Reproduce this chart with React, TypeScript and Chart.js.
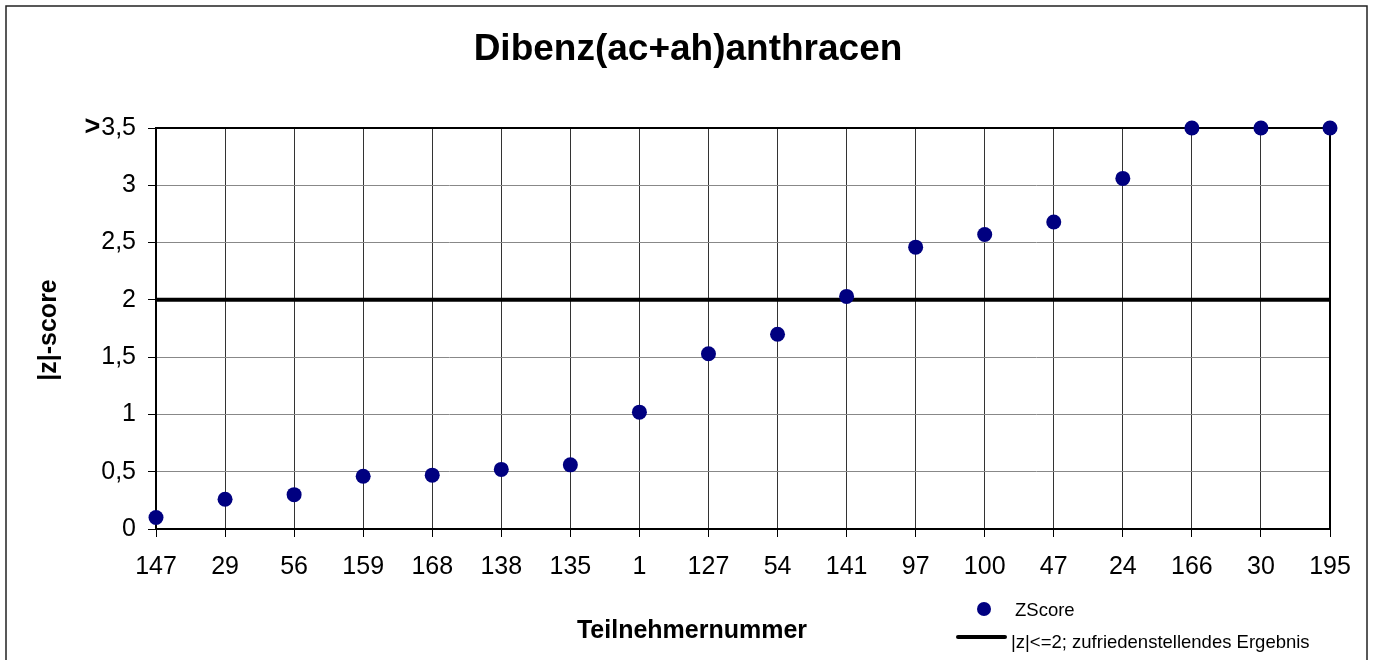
import React, { useEffect, useRef } from "react";
import { Chart, registerables } from "chart.js";

Chart.register(...registerables);

const chartTitle = "Dibenz(ac+ah)anthracen";
const xTitle = "Teilnehmernummer";
const yTitle = "|z|-score";
const categories = ["147", "29", "56", "159", "168", "138", "135", "1", "127", "54", "141", "97", "100", "47", "24", "166", "30", "195"];
const zScores = [0.1, 0.26, 0.3, 0.46, 0.47, 0.52, 0.56, 1.02, 1.53, 1.7, 2.03, 2.46, 2.57, 2.68, 3.06, 3.5, 3.5, 3.5];
const limitLine = [2, 2, 2, 2, 2, 2, 2, 2, 2, 2, 2, 2, 2, 2, 2, 2, 2, 2];
const yTickLabels = ["0", "0,5", "1", "1,5", "2", "2,5", "3", "3,5"];
const seriesNames = ["ZScore", "|z|<=2; zufriedenstellendes Ergebnis"];

const FONT = "Arial, 'Liberation Sans', sans-serif";

export default function App() {
  const ref = useRef<HTMLCanvasElement>(null);

  useEffect(() => {
    const canvas = ref.current!;
    const decor = {
      id: "decor",
      beforeDatasetsDraw(chart: any) {
        const { ctx, chartArea: a } = chart;
        ctx.save();
        ctx.strokeStyle = "#000";
        ctx.lineWidth = 2;
        ctx.strokeRect(a.left, a.top, a.right - a.left, a.bottom - a.top);
        ctx.restore();
      },
      afterDraw(chart: any) {
        const { ctx, chartArea: a } = chart;
        ctx.save();
        // outer frame
        ctx.strokeStyle = "#222";
        ctx.lineWidth = 1.5;
        ctx.strokeRect(6, 6, 1361, 670);
        // title
        ctx.fillStyle = "#000";
        ctx.textAlign = "center";
        ctx.textBaseline = "alphabetic";
        ctx.font = `bold 37px ${FONT}`;
        ctx.fillText(chartTitle, 688, 60);
        // x title
        ctx.font = `bold 25px ${FONT}`;
        ctx.fillText(xTitle, 692, 638);
        // y title
        ctx.save();
        ctx.translate(56, 330);
        ctx.rotate(-Math.PI / 2);
        ctx.textBaseline = "alphabetic";
        ctx.fillText(yTitle, 0, 0);
        ctx.restore();
        // bold ">" before top label
        ctx.font = `25px ${FONT}`;
        const w = ctx.measureText(yTickLabels[yTickLabels.length - 1]).width;
        ctx.font = `bold 27px ${FONT}`;
        ctx.textAlign = "right";
        ctx.textBaseline = "middle";
        const yTop = chart.scales.y.getPixelForValue(3.5);
        ctx.fillText(">", a.left - 8 - 12 - w - 1, yTop);
        // legend
        ctx.fillStyle = "#000080";
        ctx.beginPath();
        ctx.arc(984, 609, 7, 0, Math.PI * 2);
        ctx.fill();
        ctx.fillStyle = "#000";
        ctx.font = `18.5px ${FONT}`;
        ctx.textAlign = "left";
        ctx.textBaseline = "alphabetic";
        ctx.fillText(seriesNames[0], 1015, 616);
        ctx.strokeStyle = "#000";
        ctx.lineWidth = 4;
        ctx.lineCap = "round";
        ctx.beginPath();
        ctx.moveTo(958, 637);
        ctx.lineTo(1005, 637);
        ctx.stroke();
        ctx.fillText(seriesNames[1], 1011, 648);
        ctx.restore();
      },
    };

    const chart = new Chart(canvas, {
      type: "line",
      data: {
        labels: categories,
        datasets: [
          {
            label: seriesNames[0],
            data: zScores,
            showLine: false,
            pointRadius: 7.5,
            pointHoverRadius: 7.5,
            pointBackgroundColor: "#000080",
            pointBorderWidth: 0,
            borderColor: "#000080",
            clip: false as any,
            order: 0,
          },
          {
            label: seriesNames[1],
            data: limitLine,
            borderColor: "#000",
            borderWidth: 4,
            pointRadius: 0,
            clip: false as any,
            order: 1,
          },
        ],
      },
      options: {
        responsive: false,
        animation: false,
        events: [],
        layout: { padding: { left: 0, top: 128, right: 44, bottom: 0 } },
        plugins: {
          legend: { display: false },
          title: { display: false },
          tooltip: { enabled: false },
        },
        scales: {
          x: {
            type: "category",
            offset: false,
            afterFit(scale: any) {
              scale.height = 131;
            },
            grid: { color: "#333", lineWidth: 1, tickLength: 8, tickColor: "#000" },
            border: { display: false },
            ticks: {
              color: "#000",
              font: { family: FONT, size: 25 },
              padding: 15,
              maxRotation: 0,
              autoSkip: false,
            },
          },
          y: {
            type: "linear",
            min: 0,
            max: 3.5,
            afterFit(scale: any) {
              scale.width = 156;
            },
            grid: { color: "#888", lineWidth: 1, tickLength: 8, tickColor: "#000" },
            border: { display: false },
            ticks: {
              stepSize: 0.5,
              color: "#000",
              font: { family: FONT, size: 25 },
              padding: 12,
              callback: (_v: any, i: number) => yTickLabels[i],
            },
          },
        },
      },
      plugins: [decor],
    });
    return () => chart.destroy();
  }, []);

  return (
    <div style={{ position: "fixed", left: 0, top: 0, width: 1374, height: 660, background: "#fff" }}>
      <canvas ref={ref} width={1374} height={660} style={{ display: "block" }} />
    </div>
  );
}
